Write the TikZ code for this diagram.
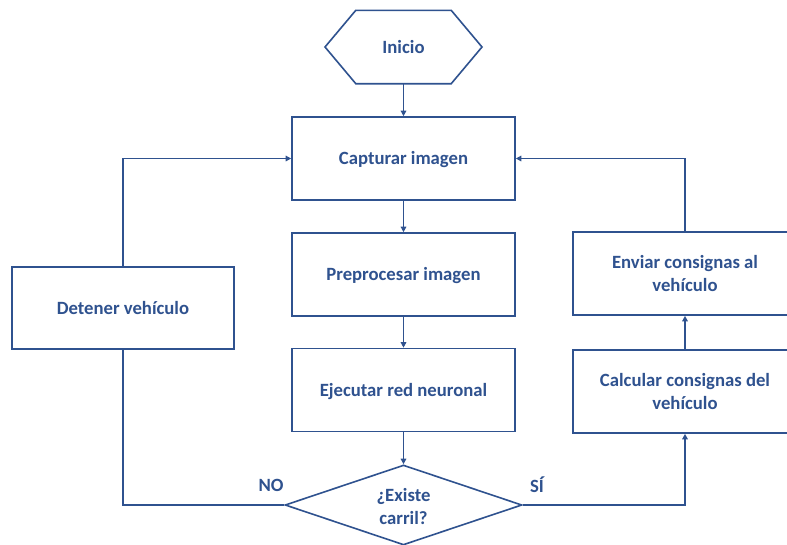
\documentclass[tikz,border=0pt]{standalone}
\usepackage{fontspec}
\setmainfont{Carlito}
\usetikzlibrary{arrows.meta,shapes.geometric}
\definecolor{flow}{RGB}{47,82,143}
\begin{document}
\begin{tikzpicture}[x=1pt,y=-1pt,
  every node/.style={text=flow,font=\fontsize{18.7}{23}\selectfont\bfseries},
  oneline/.style={text height=17.8pt,text depth=5pt},
  twoline/.style={align=center},
  box/.style={draw=flow,line width=1.6pt,rectangle,inner sep=0pt,minimum width=223pt,minimum height=83pt},
  link/.style={draw=flow,line width=1.6pt},
  arr/.style={link,-{Triangle[length=5.5pt,width=5.5pt]}}]
\clip (0,0) rectangle (787,544);
\fill[white] (0,0) rectangle (787,544);

% start terminal (hexagon)
\node (ini) [oneline,inner sep=0pt,minimum width=95pt,minimum height=73pt] at (403.5,47) {Inicio};
\draw[link] (ini.north west) -- (ini.north east) -- (482,47) -- (ini.south east)
  -- (ini.south west) -- (325,47) -- cycle;

% main column
\node (cap) [box,oneline] at (403.5,158.5) {Capturar imagen};
\node (pre) [box,oneline] at (403.5,274.5) {Preprocesar imagen};
\node (eje) [box,oneline] at (403.5,390) {Ejecutar red neuronal};
\node (dec) [draw=flow,line width=1.6pt,diamond,inner sep=0pt,minimum width=237pt,minimum height=80pt] at (403.5,505) {};
\node (dectxt) [twoline,yshift=-1.5pt] at (dec.center) {¿Existe\\carril?};

% side branches
\node (det) [box,oneline,minimum width=222pt,minimum height=82pt] at (123,308) {Detener vehículo};
\node (calc) [box,twoline,minimum width=224pt] at (685,391.5) {Calcular consignas del\\vehículo};
\node (env) [box,twoline,minimum width=224pt] at (685,273.5) {Enviar consignas al\\vehículo};

% connectors
\draw[arr] (ini.south) -- (cap.north);
\draw[arr] (cap.south) -- (pre.north);
\draw[arr] (pre.south) -- (eje.north);
\draw[arr] (eje.south) -- (dec.north);
\draw[link] (dec.west) -| (det.south);
\draw[arr] (det.north) |- (cap.west);
\draw[arr] (dec.east) -| (calc.south);
\draw[arr] (calc.north) -- (env.south);
\draw[arr] (env.north) |- (cap.east);

% branch labels
\node (no) at (271,485) {NO};
\node (si) at (537,485) {SÍ};
\end{tikzpicture}
\end{document}
